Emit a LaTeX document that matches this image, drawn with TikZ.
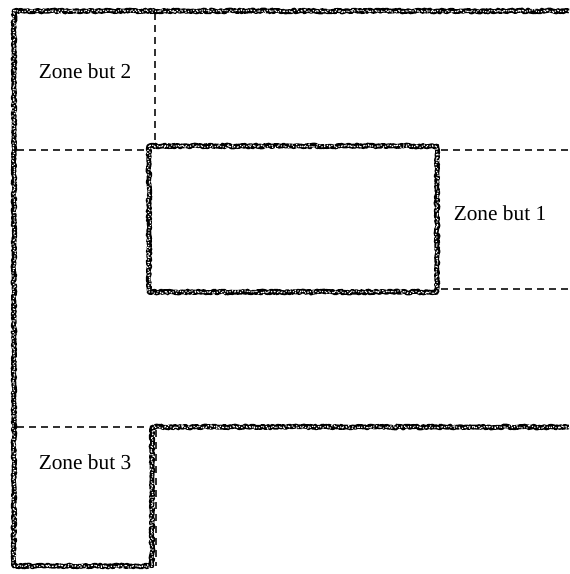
\documentclass[tikz,border=0pt]{standalone}
\usepackage{fontspec}
\setmainfont{Liberation Serif}
\usetikzlibrary{decorations.pathmorphing}
\tikzset{
  wall/.style={draw=black,line width=3.6pt,line cap=square,line join=round,decorate,
    decoration={random steps,segment length=1.1pt,amplitude=0.8pt}},
  grain/.style={draw=white,line width=0.9pt,line join=round,dash pattern=on 0.8pt off 1.3pt,decorate,
    decoration={random steps,segment length=0.9pt,amplitude=1.1pt}},
  limit/.style={draw=black!80,line width=0.8pt,dash pattern=on 5.2pt off 3.8pt},
  zone/.style={font=\fontsize{16}{19}\selectfont,inner sep=0pt},
}
\begin{document}
\begin{tikzpicture}[x=0.75pt,y=-0.75pt]
\useasboundingbox (0,0) rectangle (569,574);
% zone limits
\draw[limit] (155,13) -- (155,143);
\draw[limit] (17,150) -- (147,150);
\draw[limit] (441,150) -- (569,150);
\draw[limit] (441,289) -- (569,289);
\draw[limit] (17,427) -- (149,427);
\draw[limit] (156,430) -- (156,566);
% walls, drawn twice so the edges look grainy
\foreach \s in {wall,grain}{
  \draw[\s] (569,11) -- (14,11) -- (14,566) -- (152,566) -- (152,427) -- (569,427);
  \draw[\s] (149,146) rectangle (437,292);
}
% target zones
\node[zone] (but2) at (85,71) {Zone but 2};
\node[zone] (but1) at (500,213) {Zone but 1};
\node[zone] (but3) at (85,462) {Zone but 3};
\end{tikzpicture}
\end{document}
